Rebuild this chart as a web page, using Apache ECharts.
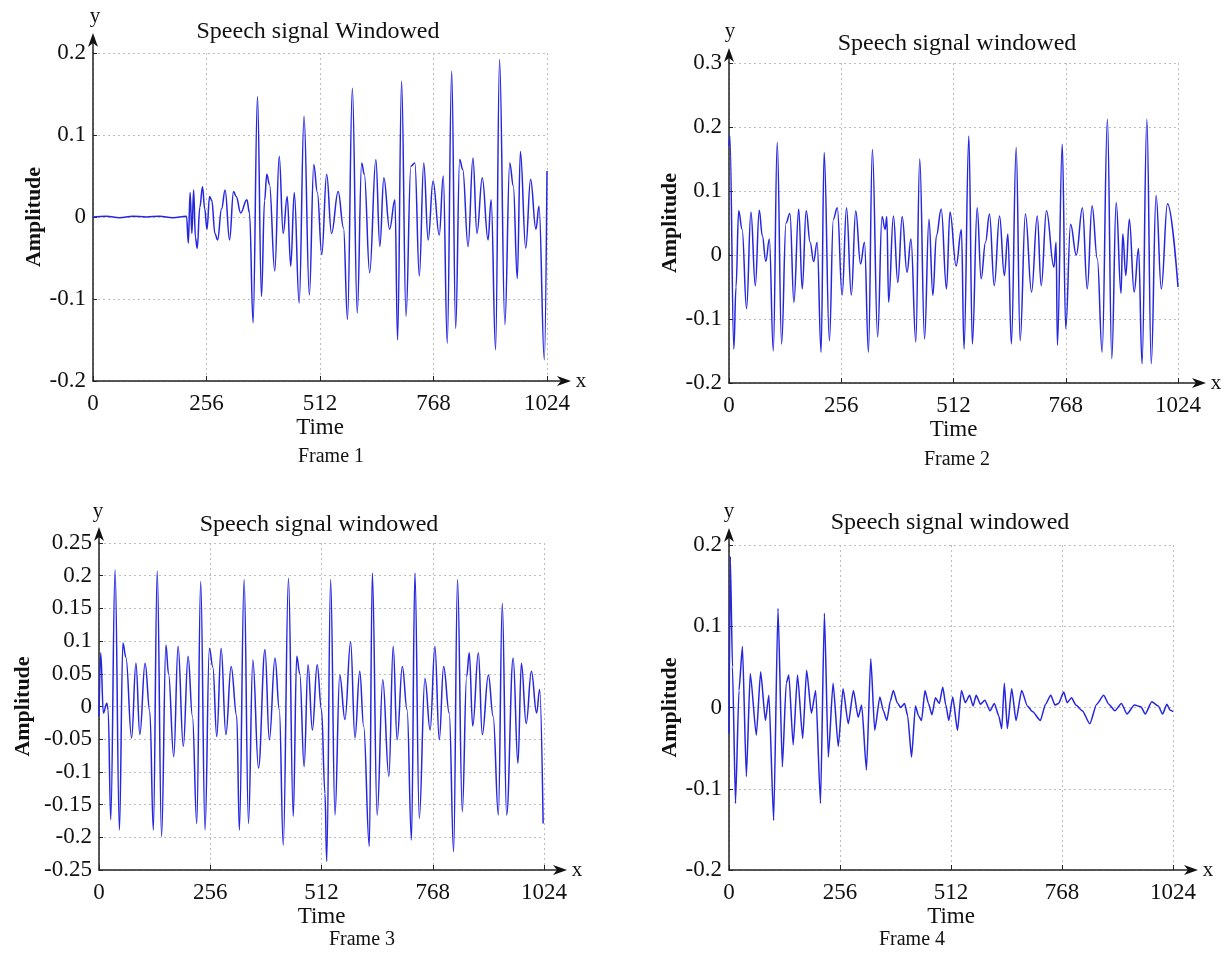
<!DOCTYPE html>
<html>
<head>
<meta charset="utf-8">
<title>Speech signal windowed</title>
<script src="https://cdn.jsdelivr.net/npm/echarts@6/dist/echarts.min.js"></script>
<style>
  html,body{margin:0;padding:0;background:#fff;}
  #main{width:1227px;height:954px;}
</style>
</head>
<body>
<div id="main"></div>
<script>
// ---- data: [sample, amplitude] ----
var frame1 = [[0,0],[30,0.001],[60,-0.001],[90,0.001],[120,0],[150,0.001],[180,-0.001],[211,0.001],
  [215,-0.032],[219,0.03],[223,-0.02],[227,0.033],[231,-0.025],[235,-0.038],[241,0.012],[247,0.037],[252,0.01],
  [257,-0.015],[263,0.025],[268,0.02],[275,-0.02],[281,-0.028],[290,0.01],[298,0.033],[308,-0.028],[317,0.031],
  [323,0.025],[333,0.005],[347,0.021],[353,0.005],[361,-0.129],[371,0.147],[380,-0.097],[387,0.02],[392,0.052],
  [398,0.04],[410,-0.066],[420,0.074],[429,-0.02],[438,0.025],[446,-0.06],[454,0.03],[465,-0.105],[476,0.123],
  [488,-0.095],[498,0.064],[506,0.03],[516,-0.046],[527,0.052],[538,-0.02],[553,0.031],[565,-0.013],[574,-0.125],
  [585,0.157],[596,-0.117],[606,0.066],[612,0.052],[624,-0.068],[638,0.07],[647,-0.036],[656,0.048],[669,-0.015],
  [681,0.021],[687,-0.15],[696,0.166],[706,-0.121],[717,0.062],[726,0.066],[736,-0.072],[746,0.066],[756,-0.028],
  [767,0.044],[781,-0.022],[790,0.05],[799,-0.154],[809,0.178],[818,-0.136],[827,0.07],[834,0.058],[846,-0.036],
  [857,0.072],[866,-0.02],[878,0.048],[891,-0.028],[898,0.021],[908,-0.162],[917,0.192],[929,-0.131],[940,0.066],
  [948,0.038],[957,-0.075],[964,0.08],[976,-0.038],[987,0.046],[999,-0.015],[1006,0.013],[1018,-0.174],[1024,0.056]];

var frame2 = [[0,0.17],[2,0.186],[11,-0.147],[16,-0.05],[22,0.069],[30,0.04],[40,-0.084],[50,0.067],[60,-0.048],
  [69,0.07],[76,0.03],[84,-0.01],[92,0.025],[101,-0.15],[110,0.176],[120,-0.139],[130,0.05],[139,0.065],[148,-0.074],
  [159,0.072],[167,-0.053],[176,0.069],[185,0.02],[193,-0.01],[201,0.02],[210,-0.152],[217,0.16],[229,-0.134],
  [238,0.056],[247,0.074],[258,-0.063],[268,0.074],[279,-0.063],[289,0.069],[300,-0.014],[309,0.02],[318,-0.152],
  [327,0.165],[339,-0.128],[349,0.06],[356,0.04],[360,0.06],[364,-0.074],[375,0.061],[385,-0.043],[395,0.06],
  [406,-0.027],[415,0.025],[426,-0.136],[435,0.15],[446,-0.131],[456,0.056],[465,-0.063],[473,0.03],[484,0.072],
  [496,-0.053],[504,0.067],[518,-0.017],[530,0.04],[536,-0.147],[547,0.186],[555,-0.139],[566,0.074],[575,-0.037],
  [585,0.02],[594,0.064],[605,-0.048],[617,0.061],[628,-0.032],[636,0.033],[644,-0.139],[655,0.168],[664,-0.134],
  [676,0.064],[690,-0.058],[703,0.061],[712,-0.048],[724,0.069],[741,-0.019],[746,0.02],[749,-0.141],[760,0.173],
  [768,-0.115],[779,0.048],[792,0],[806,0.074],[817,-0.053],[828,0.077],[840,-0.006],[851,-0.152],[863,0.212],
  [873,-0.162],[883,0.082],[894,-0.06],[898,0.033],[905,-0.032],[913,0.056],[924,-0.058],[934,0.01],[942,-0.17],
  [953,0.212],[963,-0.17],[974,0.093],[986,-0.053],[1000,0.08],[1024,-0.05]];

var frame3 = [[0,-0.015],[4,0.082],[10,-0.01],[18,0.005],[21,-0.005],[27,-0.173],[37,0.209],[47,-0.189],[55,0.097],
  [62,0.075],[75,-0.048],[85,0.066],[94,-0.043],[106,0.066],[117,-0.008],[125,-0.189],[134,0.207],[144,-0.199],
  [154,0.094],[160,0.05],[172,-0.077],[182,0.092],[194,-0.061],[205,0.077],[215,-0.015],[225,-0.179],[234,0.191],
  [244,-0.189],[254,0.089],[262,0.06],[271,-0.046],[281,0.089],[292,-0.043],[304,0.061],[317,-0.015],[323,-0.189],
  [334,0.194],[344,-0.179],[354,0.071],[367,-0.094],[382,0.087],[392,-0.051],[405,0.074],[415,-0.005],[424,-0.212],
  [436,0.196],[447,-0.168],[455,0.077],[462,0.05],[472,-0.092],[481,0.064],[491,-0.036],[502,0.064],[512,-0.005],
  [520,-0.133],[524,-0.237],[533,0.194],[543,-0.166],[554,0.048],[566,-0.02],[579,0.099],[589,-0.048],[600,0.054],
  [609,-0.03],[622,-0.214],[629,0.204],[640,-0.166],[653,0.041],[667,-0.107],[677,0.092],[686,-0.051],[698,0.061],
  [709,-0.005],[719,-0.204],[727,0.204],[737,-0.171],[750,0.043],[762,-0.036],[773,0.092],[783,-0.051],[793,0.061],
  [806,-0.01],[816,-0.222],[825,0.194],[836,-0.161],[846,0.046],[852,0.082],[860,-0.03],[873,0.082],[882,-0.043],
  [896,0.048],[907,-0.015],[919,-0.166],[928,0.158],[938,-0.166],[953,0.074],[964,-0.087],[972,0.066],[983,-0.026],
  [995,0.054],[1007,-0.01],[1014,0.026],[1022,-0.179]];

var frame4 = [[0,-0.032],[3,0.186],[8,0.05],[15,-0.118],[23,0.021],[31,0.075],[40,-0.085],[49,0.042],[63,-0.034],
  [73,0.044],[84,-0.016],[92,0.015],[103,-0.139],[113,0.122],[123,-0.073],[132,0.03],[138,0.04],[148,-0.046],
  [158,0.04],[170,-0.038],[179,0.046],[190,-0.007],[200,0.021],[211,-0.118],[220,0.116],[229,-0.061],[240,0.03],
  [252,-0.048],[263,0.023],[275,-0.02],[287,0.021],[298,-0.012],[306,0.003],[317,-0.077],[327,0.06],[336,-0.028],
  [348,0.013],[356,-0.004],[364,-0.016],[372,0.008],[379,0.021],[388,0.006],[396,0],[405,0.005],[412,-0.01],
  [421,-0.061],[430,0.002],[437,-0.01],[444,-0.016],[452,0.021],[460,0.005],[468,-0.009],[476,0.012],[485,0.005],
  [493,0.025],[500,0.003],[507,-0.016],[516,0.013],[527,-0.028],[536,0.021],[545,0.006],[555,0.015],[563,0.002],
  [570,0.015],[580,0.004],[590,0.009],[602,-0.004],[612,0.005],[622,-0.01],[629,-0.026],[635,0.03],[642,-0.026],
  [652,0.023],[662,-0.016],[675,0.021],[688,0.002],[700,-0.005],[718,-0.016],[730,0.004],[742,0.015],[752,0.003],
  [760,0.005],[772,0.019],[780,0.006],[790,0.012],[800,0.003],[815,-0.004],[832,-0.02],[848,0.004],[864,0.015],
  [876,0.004],[890,-0.004],[905,0.005],[918,-0.008],[935,0.003],[950,0.001],[960,-0.008],[975,0.007],[990,0.002],
  [1000,-0.008],[1010,0.004],[1017,-0.003],[1024,-0.005]];

var frames = [frame1, frame2, frame3, frame4];
var titles = ['Speech signal Windowed', 'Speech signal windowed', 'Speech signal windowed', 'Speech signal windowed'];
var frameNames = ['Frame 1', 'Frame 2', 'Frame 3', 'Frame 4'];
var xMax = 1024, xStep = 256;
var yMin = [-0.2, -0.2, -0.25, -0.2];
var yMax = [0.2, 0.3, 0.25, 0.2];
var yStep = [0.1, 0.1, 0.05, 0.1];
var smoothness = [0.4, 0.4, 0.4, 0.2];

// ---- layout of the four panels (pixels) ----
var layout = [
  {grid: {left: 93, top: 53, width: 454, height: 328}, title: [318, 32], frame: [331, 457], yGap: 46, arrowX: 571, arrowY: 33, yLbl: [95, 16]},
  {grid: {left: 729, top: 63, width: 449, height: 320}, title: [957, 44], frame: [957, 460], yGap: 44, arrowX: 1206, arrowY: 48, yLbl: [730, 31]},
  {grid: {left: 99, top: 543, width: 445, height: 327}, title: [319, 525], frame: [362, 940], yGap: 65, arrowX: 567, arrowY: 527, yLbl: [98, 511]},
  {grid: {left: 729, top: 545, width: 444, height: 325}, title: [950, 523], frame: [912, 940], yGap: 46, arrowX: 1198, arrowY: 528, yLbl: [729, 511]}
];

var SERIF = '"Liberation Serif", "Times New Roman", serif';
var axisColor = '#222';

var chart = echarts.init(document.getElementById('main'));

var grids = [], xAxes = [], yAxes = [], series = [], graphics = [];

frames.forEach(function (data, i) {
  var L = layout[i];
  grids.push(L.grid);
  xAxes.push({
    gridIndex: i, type: 'value', min: 0, max: xMax, interval: xStep,
    name: 'Time', nameLocation: 'middle', nameGap: 35,
    nameTextStyle: {fontFamily: SERIF, fontSize: 23, color: '#111'},
    axisLine: {onZero: false, lineStyle: {color: axisColor, width: 1.5}},
    axisTick: {inside: true, length: 5, lineStyle: {color: axisColor}},
    axisLabel: {margin: 11, fontFamily: SERIF, fontSize: 23, color: '#111',
      formatter: function (v) { return String(v); }},
    splitLine: {show: true, lineStyle: {color: '#bdbdbd', type: [2, 3], width: 1}}
  });
  yAxes.push({
    gridIndex: i, type: 'value', min: yMin[i], max: yMax[i], interval: yStep[i],
    name: 'Amplitude', nameLocation: 'middle', nameGap: L.yGap,
    nameTextStyle: {fontFamily: SERIF, fontSize: 22, fontWeight: 'bold', color: '#111'},
    axisLine: {show: true, onZero: false, lineStyle: {color: axisColor, width: 1.5}},
    axisTick: {show: true, inside: true, length: 4, lineStyle: {color: axisColor}},
    axisLabel: {margin: 7, fontFamily: SERIF, fontSize: 23, color: '#111',
      formatter: function (v) { return String(Math.round(v * 100) / 100); }},
    splitLine: {show: true, lineStyle: {color: '#bdbdbd', type: [2, 3], width: 1}}
  });
  series.push({
    type: 'line', xAxisIndex: i, yAxisIndex: i, data: data,
    showSymbol: false, smooth: smoothness[i], smoothMonotone: 'x',
    lineStyle: {color: '#2626e0', width: 1.5}
  });

  var g = L.grid;
  var right = g.left + g.width, bottom = g.top + g.height;
  // titles and frame captions
  graphics.push({type: 'text', x: L.title[0], y: L.title[1],
    style: {text: titles[i], font: '24px ' + SERIF, fill: '#111', align: 'center', verticalAlign: 'middle'}});
  graphics.push({type: 'text', x: L.frame[0], y: L.frame[1],
    style: {text: frameNames[i], font: '20px ' + SERIF, fill: '#111', align: 'center', verticalAlign: 'middle'}});
  // x axis arrow
  graphics.push({type: 'line', shape: {x1: right, y1: bottom, x2: L.arrowX - 6, y2: bottom},
    style: {stroke: axisColor, lineWidth: 1.5}});
  graphics.push({type: 'polygon', shape: {points: [[L.arrowX, bottom], [L.arrowX - 14, bottom - 5], [L.arrowX - 10, bottom], [L.arrowX - 14, bottom + 5]]},
    style: {fill: '#111'}});
  graphics.push({type: 'text', x: L.arrowX + 10, y: bottom,
    style: {text: 'x', font: '21px ' + SERIF, fill: '#111', align: 'center', verticalAlign: 'middle'}});
  // y axis arrow
  graphics.push({type: 'line', shape: {x1: g.left, y1: g.top, x2: g.left, y2: L.arrowY + 6},
    style: {stroke: axisColor, lineWidth: 1.5}});
  graphics.push({type: 'polygon', shape: {points: [[g.left, L.arrowY], [g.left - 5, L.arrowY + 14], [g.left, L.arrowY + 10], [g.left + 5, L.arrowY + 14]]},
    style: {fill: '#111'}});
  graphics.push({type: 'text', x: L.yLbl[0], y: L.yLbl[1],
    style: {text: 'y', font: '21px ' + SERIF, fill: '#111', align: 'center', verticalAlign: 'middle'}});
});

chart.setOption({
  animation: false,
  backgroundColor: '#fff',
  grid: grids,
  xAxis: xAxes,
  yAxis: yAxes,
  series: series,
  graphic: graphics
});
</script>
</body>
</html>
